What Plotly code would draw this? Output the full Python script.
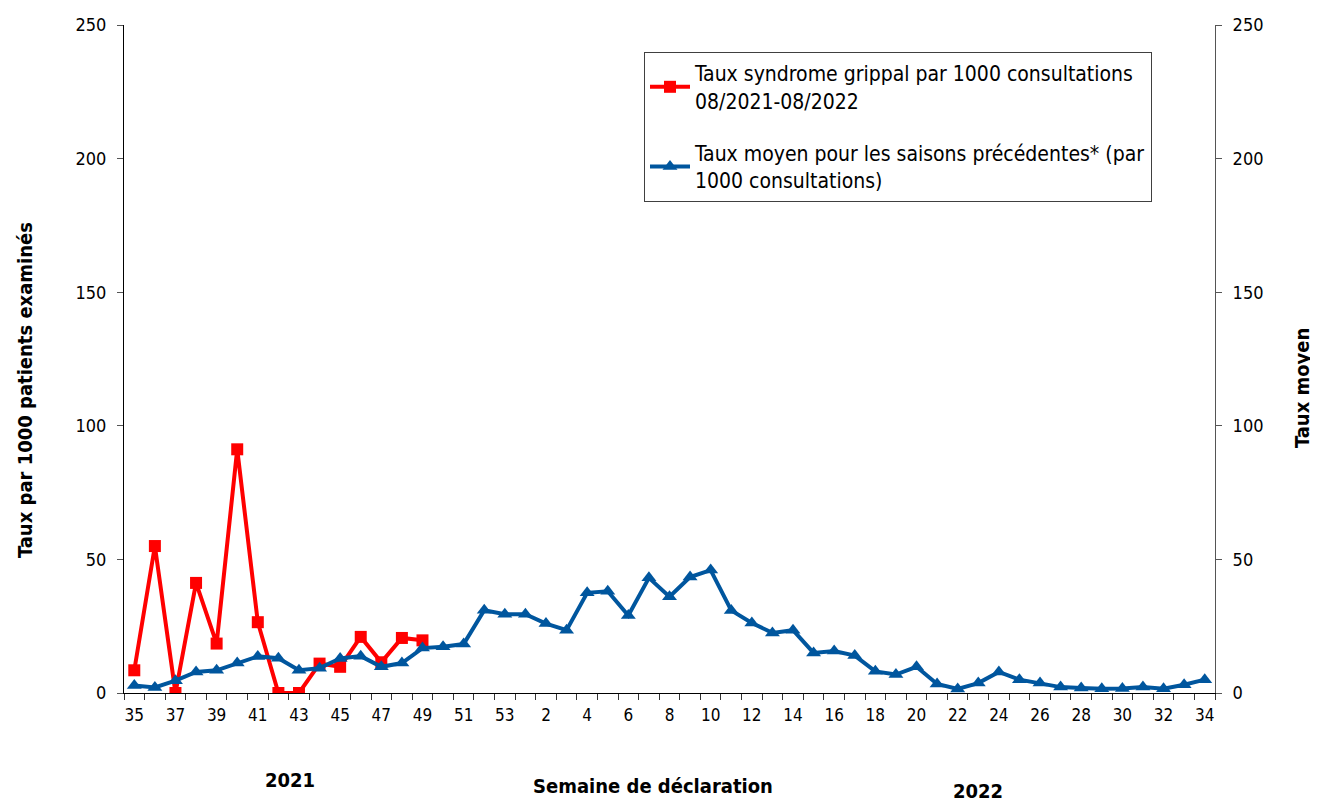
import plotly.graph_objects as go

weeks = [str(w) for w in list(range(35, 54)) + list(range(1, 35))]

taux_2021_2022 = [8.5, 55, 0, 41.2, 18.5, 91.2, 26.5, 0, 0, 11, 9.8, 21, 11.5, 20.6, 19.7]

taux_moyen = [2.8, 2.1, 4.6, 7.9, 8.5, 11.2, 13.7, 13, 8.5, 9.3, 12.9, 13.8, 9.8, 11.2, 16.8,
              17.3, 18.3, 31, 29.5, 29.5, 26, 23.5, 37.5, 38.1, 29, 43.1, 36, 43.4, 46,
              30.9, 26.2, 22.5, 23.5, 15, 15.7, 14, 8.1, 6.9, 9.8, 3.4, 1.5, 3.7, 7.9, 5,
              3.7, 2.2, 1.9, 1.6, 1.7, 2.2, 1.6, 3.1, 5]

tick_text = [w if i % 2 == 0 else "" for i, w in enumerate(weeks)]

FONT = "DejaVu Sans Condensed, Liberation Sans Narrow, Arial Narrow, sans-serif"

# page body has an 8px offset
OFF = 8
W, H = 1318, 802
L, R, T, B = 124 - OFF, W - (1215 - OFF), 25 - OFF, H - (693 - OFF)

fig = go.Figure()
fig.add_trace(go.Scatter(
    x=weeks[:len(taux_2021_2022)], y=taux_2021_2022, mode="lines+markers",
    name="Taux syndrome grippal par 1000 consultations<br>08/2021-08/2022",
    legendgroup="a",
    line=dict(color="#ff0000", width=4),
    marker=dict(symbol="square", size=12, color="#ff0000"),
))
fig.add_trace(go.Scatter(
    x=weeks, y=taux_moyen, mode="lines+markers",
    name="Taux moyen pour les saisons précédentes* (par<br>1000 consultations)",
    legendgroup="b",
    line=dict(color="#00569e", width=4),
    marker=dict(symbol="triangle-up", size=13, color="#00569e"),
    yaxis="y2",
))

xr = [-0.5, len(weeks) - 0.5]
common_x = dict(type="category", categoryorder="array", categoryarray=weeks,
                tickmode="array", tickvals=weeks, range=xr, showgrid=False,
                zeroline=False, automargin=False, fixedrange=True)
common_y = dict(range=[0, 250], dtick=50, showgrid=False, zeroline=False,
                automargin=False, fixedrange=True)

fig.update_layout(
    width=W, height=H,
    margin=dict(l=L, r=R, t=T, b=B, autoexpand=False),
    paper_bgcolor="white", plot_bgcolor="white",
    font=dict(family=FONT, size=17, color="#000000"),
    showlegend=True,
    legend=dict(
        x=(644 - 124) / (1215 - 124), y=(693 - 52) / (693 - 25),
        xanchor="left", yanchor="top",
        bgcolor="white", bordercolor="#404040", borderwidth=1,
        font=dict(family=FONT, size=21, color="#000000"),
        tracegroupgap=22, itemwidth=40,
    ),
    xaxis=dict(
        **common_x, ticktext=tick_text, tickangle=0,
        tickson="boundaries", ticks="outside", ticklen=6, tickcolor="#333",
        showline=True, linecolor="#000", linewidth=1,
        tickfont=dict(size=17), ticklabelstandoff=7,
    ),
    xaxis2=dict(
        **common_x, overlaying="x", anchor="y", side="bottom",
        tickson="boundaries", ticks="inside", ticklen=6, tickcolor="#333",
        showticklabels=False, showline=False,
    ),
    xaxis3=dict(
        **common_x, overlaying="x", anchor="y", side="top",
        ticks="", showticklabels=False, showline=True, linecolor="#b0b0b0", linewidth=1,
    ),
    yaxis=dict(
        **common_y, ticks="outside", ticklen=6, tickcolor="#555",
        showline=True, linecolor="#000", linewidth=1,
        tickfont=dict(size=18), ticklabelstandoff=7,
    ),
    yaxis2=dict(
        **common_y, ticks="outside", ticklen=6, tickcolor="#555",
        overlaying="y", side="right",
        showline=True, linecolor="#555", linewidth=1,
        tickfont=dict(size=18), ticklabelstandoff=7,
    ),
    yaxis3=dict(
        **common_y, ticks="inside", ticklen=5, tickcolor="#555",
        overlaying="y", side="left", showticklabels=False, showline=False,
    ),
    yaxis4=dict(
        **common_y, ticks="inside", ticklen=5, tickcolor="#555",
        overlaying="y", side="right", showticklabels=False, showline=False,
    ),
)

annos = [
    dict(text="<b>Taux par 1000 patients examinés</b>", x=25, y=390, textangle=-90, size=20),
    dict(text="<b>Taux moyen</b>", x=1302, y=388, textangle=-90, size=20),
    dict(text="<b>Semaine de déclaration</b>", x=653, y=786, textangle=0, size=20),
    dict(text="<b>2021</b>", x=290, y=780, textangle=0, size=20),
    dict(text="<b>2022</b>", x=978, y=791, textangle=0, size=20),
]
pw = W - L - R
ph = H - T - B
for a in annos:
    fig.add_annotation(
        text=a["text"], xref="paper", yref="paper",
        x=(a["x"] - OFF - L) / pw,
        y=(H - B - (a["y"] - OFF)) / ph,
        xanchor="center", yanchor="middle", showarrow=False,
        textangle=a["textangle"], font=dict(family=FONT, size=a["size"], color="#000"),
    )

fig.write_html("out.html")
